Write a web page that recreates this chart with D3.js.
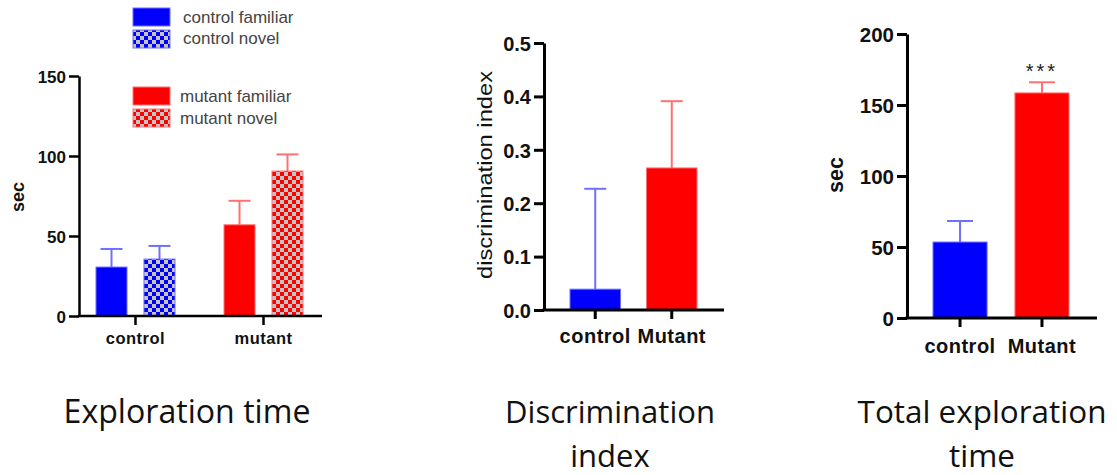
<!doctype html>
<html>
<head>
<meta charset="utf-8">
<title>Exploration</title>
<style>
body{ margin:0; background:#fff; }
svg{ display:block; }
</style>
</head>
<body>
<svg></svg>
<script src="https://cdn.jsdelivr.net/npm/d3@7"></script>
<script>
var width = 1117, height = 475;

// panel 1: exploration time
var groups1 = ['control', 'mutant'];
var series1 = ['familiar', 'novel'];
var mean1 = [[30.6, 35.6], [57, 90.6]];
var sem1 = [[11.3, 8.2], [15, 10.4]];
var ticks1 = [0, 50, 100, 150];
var legend1 = ['control familiar', 'control novel', 'mutant familiar', 'mutant novel'];

// panel 2: discrimination index
var groups2 = ['control', 'Mutant'];
var mean2 = [0.039, 0.266];
var sem2 = [0.188, 0.125];
var ticks2 = [0.0, 0.1, 0.2, 0.3, 0.4, 0.5];

// panel 3: total exploration time
var groups3 = ['control', 'Mutant'];
var mean3 = [53.5, 158.5];
var sem3 = [14.8, 7.5];
var ticks3 = [0, 50, 100, 150, 200];

var blue = '#0000ff', red = '#ff0000';
var lblue = '#6f6fff', lred = '#ff7070';
var font = 'Liberation Sans, Arial, sans-serif';

var svg = d3.select('svg').attr('width', width).attr('height', height);
var defs = svg.append('defs');

function checker(id, col) {
  var p = defs.append('pattern').attr('id', id)
    .attr('patternUnits', 'userSpaceOnUse').attr('width', 8).attr('height', 8);
  p.append('rect').attr('width', 8).attr('height', 8).attr('fill', col);
  p.append('rect').attr('x', 0).attr('y', 0).attr('width', 4).attr('height', 4).attr('fill', '#c4c4c4');
  p.append('rect').attr('x', 4).attr('y', 4).attr('width', 4).attr('height', 4).attr('fill', '#c4c4c4');
}
checker('chkBlue', blue);
checker('chkRed', red);

function drawAxes(g, y, x0, x1, ticks, fmt, fs, sw, tickXs) {
  var ya = g.append('g').attr('transform', 'translate(' + x0 + ',0)')
    .call(d3.axisLeft(y).tickValues(ticks).tickFormat(fmt).tickSize(10).tickSizeOuter(0).tickPadding(3));
  ya.select('.domain').attr('stroke', '#000').attr('stroke-width', sw);
  ya.selectAll('.tick line').attr('stroke', '#000').attr('stroke-width', sw);
  ya.selectAll('.tick text').attr('fill', '#111').style('font-family', font)
    .style('font-weight', 'bold').style('font-size', fs + 'px').attr('dy', '0.36em');
  var y0 = y(0);
  g.append('line').attr('x1', x0 - sw / 2).attr('x2', x1).attr('y1', y0).attr('y2', y0)
    .attr('stroke', '#000').attr('stroke-width', sw);
  tickXs.forEach(function (tx) {
    g.append('line').attr('x1', tx).attr('x2', tx).attr('y1', y0).attr('y2', y0 + 9)
      .attr('stroke', '#000').attr('stroke-width', sw);
  });
}

function bar(g, x, w, y, m, e, fill, stroke, capW) {
  g.append('line').attr('x1', x + w / 2).attr('x2', x + w / 2).attr('y1', y(m)).attr('y2', y(m + e))
    .attr('stroke', stroke).attr('stroke-width', 2);
  g.append('line').attr('x1', x + w / 2 - capW).attr('x2', x + w / 2 + capW).attr('y1', y(m + e)).attr('y2', y(m + e))
    .attr('stroke', stroke).attr('stroke-width', 2);
  g.append('rect').attr('x', x).attr('y', y(m)).attr('width', w).attr('height', y(0) - y(m))
    .attr('fill', fill).attr('stroke', stroke).attr('stroke-width', 1);
}

function title(lines, cx, baseline, target) {
  var t = svg.append('text').attr('text-anchor', 'middle')
    .style('font-family', 'Open Sans, Noto Sans, sans-serif').style('font-size', '30px').attr('fill', '#111');
  lines.forEach(function (s, i) {
    t.append('tspan').attr('x', cx).attr('y', baseline + i * 44).text(s);
  });
  var w = t.select('tspan').node().getComputedTextLength();
  t.style('font-size', (30 * target / w) + 'px');
}

function label(g, x, y, s, fs, bold, ls) {
  return g.append('text').attr('x', x).attr('y', y).attr('text-anchor', 'middle')
    .style('font-family', font).style('font-weight', bold ? 'bold' : 'normal').style('font-size', fs + 'px')
    .style('letter-spacing', (ls || 0) + 'px').attr('fill', '#111').text(s);
}

// ---------- panel 1 ----------
var g1 = svg.append('g');
var y1 = d3.scaleLinear().domain([0, 150]).range([316, 76]);
var xg1 = d3.scaleBand().domain(groups1).range([96, 303]).paddingInner(0.383).paddingOuter(0);
var xs1 = d3.scaleBand().domain(series1).range([0, xg1.bandwidth()]).paddingInner(0.354);
var cols1 = [[blue, 'url(#chkBlue)'], [red, 'url(#chkRed)']];
var strokes1 = [lblue, lred];
groups1.forEach(function (gr, i) {
  series1.forEach(function (s, j) {
    bar(g1, xg1(gr) + xs1(s), xs1.bandwidth(), y1, mean1[i][j], sem1[i][j], cols1[i][j], strokes1[i], 11);
  });
});
drawAxes(g1, y1, 79, 322, ticks1, d3.format('d'), 17, 2.5,
  groups1.map(function (d) { return xg1(d) + xg1.bandwidth() / 2; }));
groups1.forEach(function (gr) {
  label(g1, xg1(gr) + xg1.bandwidth() / 2, 344, gr, 16.5, true, 0.5);
});
label(g1, 0, 0, 'sec', 18, true).attr('transform', 'translate(24,197) rotate(-90)').attr('x', null).attr('y', null);

// legend
var legY = [8, 30, 87, 109];
var legBase = [23, 44, 102, 124];
var legFill = [blue, 'url(#chkBlue)', red, 'url(#chkRed)'];
var legStroke = [lblue, lblue, lred, lred];
legend1.forEach(function (s, i) {
  g1.append('rect').attr('x', 133).attr('y', legY[i]).attr('width', 37).attr('height', 18)
    .attr('fill', legFill[i]).attr('stroke', legStroke[i]).attr('stroke-width', 1);
  g1.append('text').attr('x', i < 2 ? 183 : 180).attr('y', legBase[i])
    .style('font-family', font).style('font-size', '17px')
    .attr('fill', '#444').text(s);
});

// ---------- panel 2 ----------
var g2 = svg.append('g');
var y2 = d3.scaleLinear().domain([0, 0.5]).range([310, 43]);
var x2 = d3.scaleBand().domain(groups2).range([570, 697]).paddingInner(0.34).paddingOuter(0);
groups2.forEach(function (gr, i) {
  bar(g2, x2(gr), x2.bandwidth(), y2, mean2[i], sem2[i], i ? red : blue, i ? lred : lblue, 11);
});
drawAxes(g2, y2, 544, 724, ticks2, d3.format('.1f'), 20, 3,
  groups2.map(function (d) { return x2(d) + x2.bandwidth() / 2; }));
groups2.forEach(function (gr) {
  label(g2, x2(gr) + x2.bandwidth() / 2, 343, gr, 20, true, 0.5);
});
g2.append('text').attr('transform', 'translate(492,175) rotate(-90)').attr('text-anchor', 'middle')
  .style('font-family', font).style('font-size', '20px')
  .attr('textLength', 208).attr('lengthAdjust', 'spacingAndGlyphs')
  .attr('fill', '#111').text('discrimination index');

// ---------- panel 3 ----------
var g3 = svg.append('g');
var y3 = d3.scaleLinear().domain([0, 200]).range([318, 34]);
var x3 = d3.scaleBand().domain(groups3).range([933, 1069]).paddingInner(0.34).paddingOuter(0);
groups3.forEach(function (gr, i) {
  bar(g3, x3(gr), x3.bandwidth(), y3, mean3[i], sem3[i], i ? red : blue, i ? lred : lblue, 13);
});
drawAxes(g3, y3, 907, 1097, ticks3, d3.format('d'), 20.5, 3,
  groups3.map(function (d) { return x3(d) + x3.bandwidth() / 2; }));
groups3.forEach(function (gr) {
  label(g3, x3(gr) + x3.bandwidth() / 2, 353, gr, 20, true, 0.5);
});
label(g3, 0, 0, 'sec', 21.5, true).attr('transform', 'translate(843,175) rotate(-90)').attr('x', null).attr('y', null);
label(g3, x3('Mutant') + x3.bandwidth() / 2, 78, '***', 20, false, 3).attr('fill', '#222');

// titles
title(['Exploration time'], 187, 423, 247);
title(['Discrimination', 'index'], 610, 423, 210);
title(['Total exploration', 'time'], 982, 423, 249);
</script>
</body>
</html>
